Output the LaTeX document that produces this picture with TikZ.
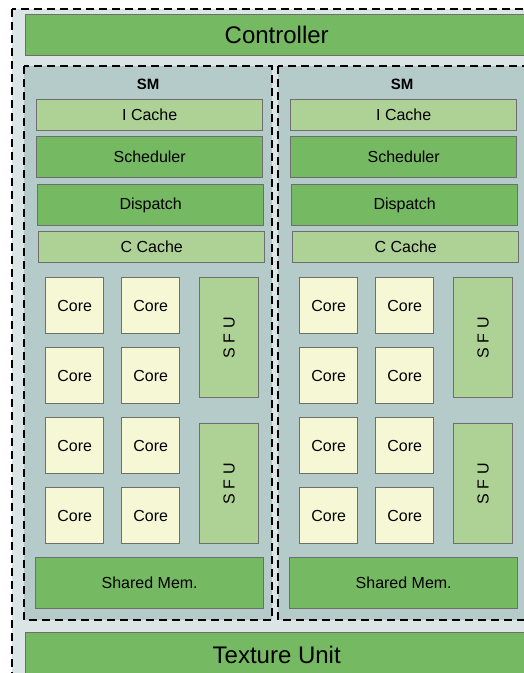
\documentclass[tikz,border=0pt]{standalone}
\usepackage{fontspec}
\setmainfont{Liberation Sans}
\definecolor{bgout}{HTML}{DCE5E5}
\definecolor{smfill}{HTML}{B4CBCA}
\definecolor{dkgreen}{HTML}{76B963}
\definecolor{ltgreen}{HTML}{AED196}
\definecolor{corefill}{HTML}{F6F8D5}
\definecolor{boxline}{HTML}{6E6E6E}
\begin{document}
\begin{tikzpicture}[x=1pt,y=-1pt,
  blk/.style={draw=boxline, line width=1.4pt, inner sep=0pt, anchor=north west, text=black},
  dk/.style={blk, fill=dkgreen},
  lt/.style={blk, fill=ltgreen},
  txt/.style={font=\fontsize{16}{18}\selectfont},
  corebox/.style={blk, txt, fill=corefill, minimum width=58pt, minimum height=56pt},
  bar/.style={txt, minimum width=226pt},
  sfubox/.style={lt, txt, minimum width=59pt, minimum height=120pt},
  dashbox/.style={draw=black, line width=1.3pt, dash pattern=on 8pt off 5pt}]
\useasboundingbox (0,0) rectangle (524,673);
\clip (0,0) rectangle (524,673);
% outer frame
\draw[dashbox, fill=bgout] (12,9) rectangle (545,700);
\node[dk, minimum width=502pt, minimum height=41pt, font=\fontsize{24}{28}\selectfont] (ctrl) at (25,14) {Controller};
\node[dk, minimum width=502pt, minimum height=45pt, font=\fontsize{24}{28}\selectfont] (tex) at (25,632) {Texture Unit};
\foreach \s/\dx in {1/0,2/254}{
\begin{scope}[xshift=\dx pt]
  \draw[dashbox, fill=smfill] (24,66) rectangle (272,620);
  \node[font=\bfseries\fontsize{15}{17}\selectfont] (sm\s) at (148,84) {SM};
  \node[lt, bar, minimum height=31pt] (ic\s) at (36,99) {I Cache};
  \node[dk, bar, minimum height=41pt] (sch\s) at (36,136) {Scheduler};
  \node[dk, bar, minimum height=41pt] (dis\s) at (37,184) {Dispatch};
  \node[lt, bar, minimum height=31pt] (cc\s) at (38,231) {C Cache};
  \node[corebox] (c\s a) at (45,277) {Core};
  \node[corebox] (c\s b) at (121,277) {Core};
  \node[corebox] (c\s c) at (45,347) {Core};
  \node[corebox] (c\s d) at (121,347) {Core};
  \node[corebox] (c\s e) at (45,417) {Core};
  \node[corebox] (c\s f) at (121,417) {Core};
  \node[corebox] (c\s g) at (45,487) {Core};
  \node[corebox] (c\s h) at (121,487) {Core};
  \node[sfubox] (sfa\s) at (199,277) {\rotatebox{90}{S F U}};
  \node[sfubox] (sfb\s) at (199,423) {\rotatebox{90}{S F U}};
  \node[dk, txt, minimum width=228pt, minimum height=51pt] (sh\s) at (35,557) {Shared Mem.};
\end{scope}
}
\end{tikzpicture}
\end{document}
